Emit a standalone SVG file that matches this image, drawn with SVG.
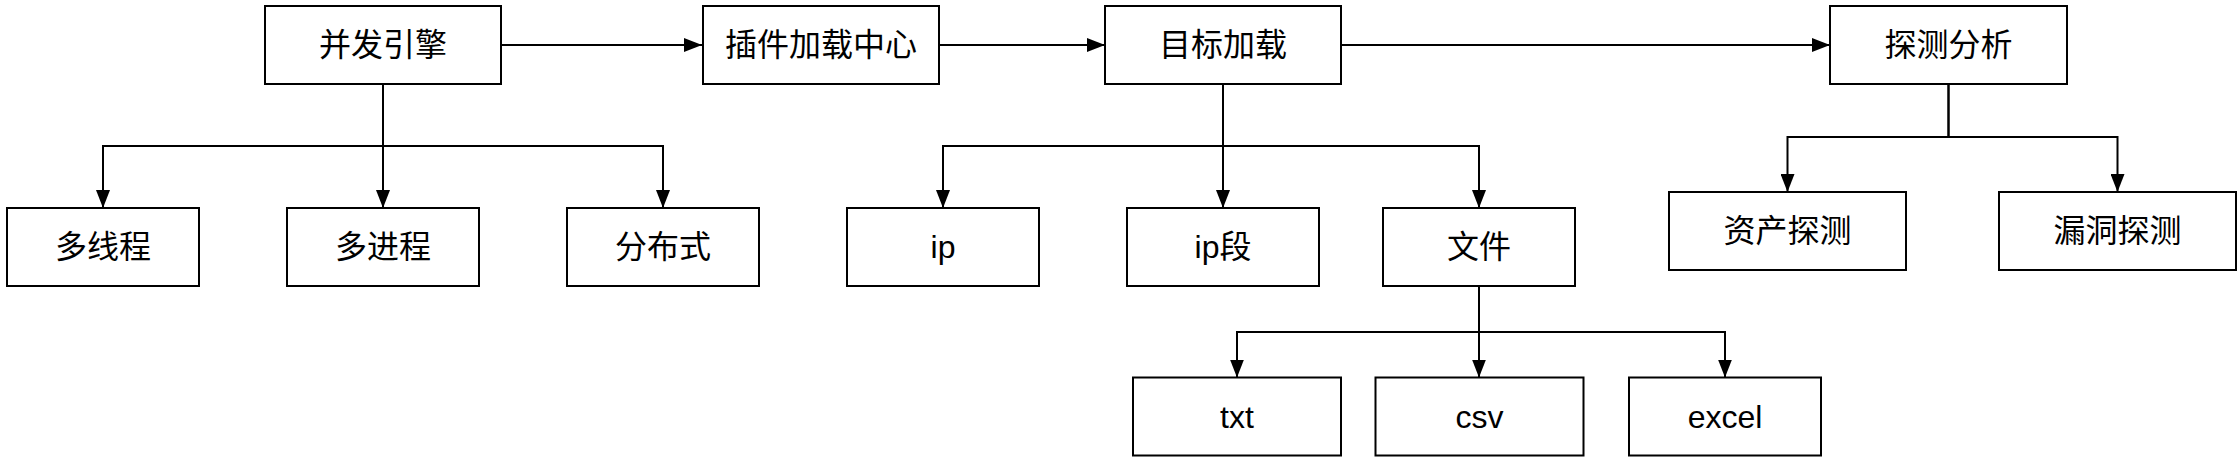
<svg xmlns="http://www.w3.org/2000/svg" width="2240" height="468" viewBox="0 0 2240 468">
<style>
.box{fill:#fff;stroke:#000;stroke-width:2}
.lbl{font-family:"Liberation Sans","Noto Sans CJK SC",sans-serif;font-size:32px;fill:#000;text-anchor:middle}
.con{fill:none;stroke:#000;stroke-width:2;marker-end:url(#arr)}
</style>
<defs>
<marker id="arr" markerUnits="userSpaceOnUse" markerWidth="18" markerHeight="14" refX="18" refY="7" orient="auto">
<path d="M0,0 L18,7 L0,14 z" fill="#000"/>
</marker>
</defs>
<rect width="2240" height="468" fill="#fff"/>
<g id="connectors">
<path class="con" d="M501,45 H702"/>
<path class="con" d="M939,45 H1105"/>
<path class="con" d="M1341,45 H1830"/>
<path class="con" d="M383,84 V146 H103 V208"/>
<path class="con" d="M383,84 V208"/>
<path class="con" d="M383,84 V146 H663 V208"/>
<path class="con" d="M1223,84 V146 H943 V208"/>
<path class="con" d="M1223,84 V208"/>
<path class="con" d="M1223,84 V146 H1479 V208"/>
<path class="con" d="M1948.5,84 V137 H1787.5 V192"/>
<path class="con" d="M1948.5,84 V137 H2117.5 V192"/>
<path class="con" d="M1479,286 V332 H1237 V377.5"/>
<path class="con" d="M1479,286 V377.5"/>
<path class="con" d="M1479,286 V332 H1725 V377.5"/>
</g>
<g id="n-engine"><rect class="box" x="265" y="6" width="236" height="78"/><text class="lbl" x="383" y="56">并发引擎</text></g>
<g id="n-plugin"><rect class="box" x="703" y="6" width="236" height="78"/><text class="lbl" x="821" y="56">插件加载中心</text></g>
<g id="n-target"><rect class="box" x="1105" y="6" width="236" height="78"/><text class="lbl" x="1223" y="56">目标加载</text></g>
<g id="n-detect"><rect class="box" x="1830" y="6" width="237" height="78"/><text class="lbl" x="1948.5" y="56">探测分析</text></g>
<g id="n-thread"><rect class="box" x="7" y="208" width="192" height="78"/><text class="lbl" x="103" y="258">多线程</text></g>
<g id="n-process"><rect class="box" x="287" y="208" width="192" height="78"/><text class="lbl" x="383" y="258">多进程</text></g>
<g id="n-dist"><rect class="box" x="567" y="208" width="192" height="78"/><text class="lbl" x="663" y="258">分布式</text></g>
<g id="n-ip"><rect class="box" x="847" y="208" width="192" height="78"/><text class="lbl" x="943" y="258">ip</text></g>
<g id="n-ipseg"><rect class="box" x="1127" y="208" width="192" height="78"/><text class="lbl" x="1223" y="258">ip段</text></g>
<g id="n-file"><rect class="box" x="1383" y="208" width="192" height="78"/><text class="lbl" x="1479" y="258">文件</text></g>
<g id="n-asset"><rect class="box" x="1669" y="192" width="237" height="78"/><text class="lbl" x="1787.5" y="242">资产探测</text></g>
<g id="n-vuln"><rect class="box" x="1999" y="192" width="237" height="78"/><text class="lbl" x="2117.5" y="242">漏洞探测</text></g>
<g id="n-txt"><rect class="box" x="1133" y="377.5" width="208" height="78"/><text class="lbl" x="1237" y="427.5">txt</text></g>
<g id="n-csv"><rect class="box" x="1375.5" y="377.5" width="208" height="78"/><text class="lbl" x="1479.5" y="427.5">csv</text></g>
<g id="n-excel"><rect class="box" x="1629" y="377.5" width="192" height="78"/><text class="lbl" x="1725" y="427.5">excel</text></g>
</svg>
